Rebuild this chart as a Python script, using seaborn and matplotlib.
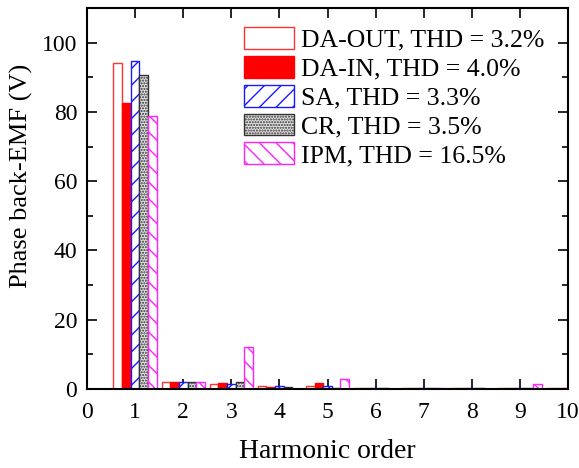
import matplotlib
matplotlib.use("Agg")
import matplotlib.pyplot as plt
import matplotlib.patches as mpatches
import seaborn as sns
import pandas as pd
from matplotlib.ticker import MultipleLocator
from matplotlib import font_manager

harmonics = [1, 2, 3, 4, 5, 6, 7, 8, 9, 10]
series = ["DA-OUT, THD = 3.2%", "DA-IN, THD = 4.0%", "SA, THD = 3.3%",
          "CR, THD = 3.5%", "IPM, THD = 16.5%"]
da_out = [94.2, 2.1, 1.5, 0.8, 0.8, 0.3, 0.3, 0.2, 0.3, 0.3]
da_in = [82.6, 2.0, 1.8, 0.7, 1.6, 0.3, 0.4, 0.2, 0.3, 0.3]
sa = [94.8, 2.1, 1.5, 0.8, 0.8, 0.3, 0.3, 0.2, 0.3, 0.2]
cr = [90.7, 2.0, 2.0, 0.7, 0.3, 0.3, 0.2, 0.2, 0.3, 0.2]
ipm = [78.9, 2.1, 12.1, 0.1, 3.0, 0.1, 0.2, 0.1, 1.3, 0.1]
values = [da_out, da_in, sa, cr, ipm]

sns.set_style("ticks")
names = sorted({f.name for f in font_manager.fontManager.ttflist})
serif_name = "Liberation Serif"
for cand in ["Liberation Serif", "Times New Roman", "Nimbus Roman", "DejaVu Serif"]:
    if cand in names:
        serif_name = cand
        break
plt.rcParams['font.family'] = [serif_name, 'DejaVu Serif']
plt.rcParams['hatch.linewidth'] = 1.0
for k in ['text.color', 'axes.labelcolor', 'xtick.color', 'ytick.color', 'axes.edgecolor']:
    plt.rcParams[k] = 'black'

rows = []
for s, vals in zip(series, values):
    for h, v in zip(harmonics, vals):
        rows.append({"h": h, "v": v, "s": s})
df = pd.DataFrame(rows)

fig = plt.figure(figsize=(5.79, 4.68), dpi=100)
ax = fig.add_axes([87/579, 1 - 389/468, (568-87)/579, (389-8)/468])

sns.barplot(data=df, x="h", y="v", hue="s", hue_order=series,
            native_scale=True, width=0.9, dodge=True, legend=False, ax=ax,
            errorbar=None)

styles = [
    dict(facecolor="white", edgecolor="#ff3333", hatch=None),
    dict(facecolor="#ff0000", edgecolor="#ff0000", hatch=None),
    dict(facecolor="white", edgecolor="#1a1aff", hatch="//"),
    dict(facecolor="#e0e0e0", edgecolor="#333333", hatch="......"),
    dict(facecolor="white", edgecolor="#ff22ff", hatch="\\\\"),
]
for cont, st in zip(ax.containers, styles):
    for p in cont:
        p.set_facecolor(st["facecolor"])
        p.set_edgecolor(st["edgecolor"])
        p.set_linewidth(1.0)
        if st["hatch"]:
            p.set_hatch(st["hatch"])

ax.set_xlim(0, 10)
ax.set_ylim(0, 110)
ax.xaxis.set_major_locator(MultipleLocator(1))
ax.yaxis.set_major_locator(MultipleLocator(20))
ax.yaxis.set_minor_locator(MultipleLocator(10))
ax.tick_params(which="both", direction="in", top=True, right=True,
               labelsize=17, width=1.2)
ax.tick_params(axis="x", which="major", length=7, pad=9)
ax.tick_params(axis="y", which="major", length=7, pad=7)
ax.tick_params(which="minor", length=4)
for sp in ax.spines.values():
    sp.set_linewidth(1.5)
    sp.set_visible(True)
ax.set_xlabel("Harmonic order", fontsize=20, labelpad=12)
ax.set_ylabel("Phase back-EMF (V)", fontsize=19)
ax.yaxis.set_label_coords(-0.112, 0.56)

leg_handles = []
for st in styles:
    leg_handles.append(mpatches.Patch(facecolor=st["facecolor"], edgecolor=st["edgecolor"],
                                      hatch=st["hatch"], linewidth=1.0))
ax.legend(leg_handles, series, loc="upper left", frameon=False, fontsize=18.5,
          handlelength=1.95, handleheight=0.93, labelspacing=0.16, handletextpad=0.25,
          borderpad=0, borderaxespad=0,
          bbox_to_anchor=(244/579, 1 - 27/468), bbox_transform=fig.transFigure)

fig.savefig("out.png", dpi=100)
